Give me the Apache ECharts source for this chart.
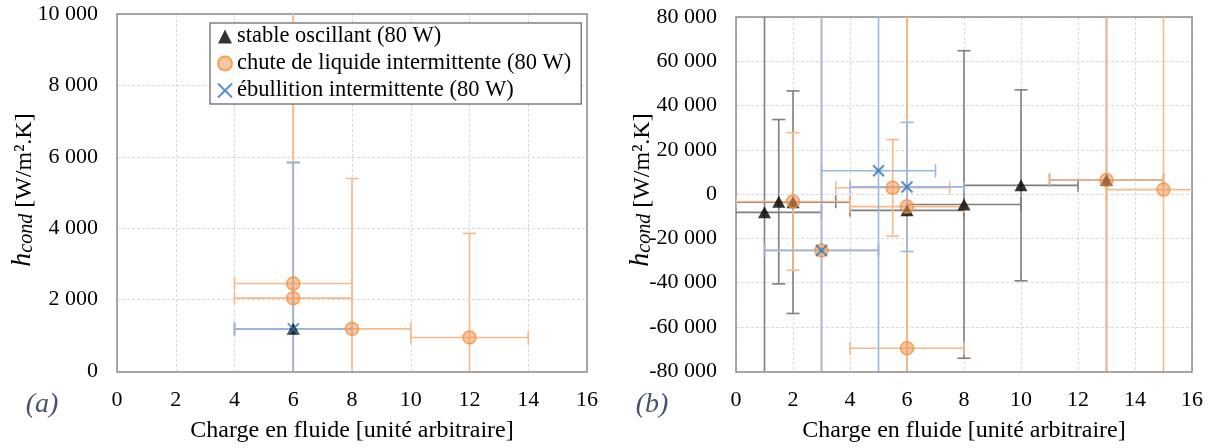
<!DOCTYPE html>
<html>
<head>
<meta charset="utf-8">
<script src="https://cdn.jsdelivr.net/npm/echarts@6/dist/echarts.min.js"></script>
<style>
  html, body { margin: 0; padding: 0; background: #fff; }
  #chart { width: 1210px; height: 448px; }
</style>
</head>
<body>
<div id="chart"></div>
<script>
// ---- data: [x, y, x error (±), y error (±)] ----
const seriesNames = ['stable oscillant (80 W)', 'chute de liquide intermittente (80 W)', 'ébullition intermittente (80 W)'];

// panel (a)
const aStable = [[6, 1180, 2, 4660]];
const aChute  = [[6, 2450, 2, 8000], [6, 2040, 2, 9000], [8, 1180, 2, 4210], [12, 940, 2, 2915]];
const aEbul   = [[6, 1180, 2, 4660]];

// panel (b)
const bStable = [[1, -8300, 2, 150000], [1.5, -3500, 2, 37150], [2, -3700, 2, 50300], [6, -7400, 2, 150000],
                 [8, -4740, 2, 69500], [10, 3900, 2, 43150], [13, 6300, 2, 150000]];
const bChute  = [[2, -3400, 2, 31100], [3, -25500, 2, 150000], [5.5, 2800, 2, 21800], [6, -5700, 2, 150000],
                 [6, -69750, 2, 150000], [13, 6300, 2, 150000], [15, 2000, 2, 150000]];
const bEbul   = [[3, -25500, 2, 150000], [5, 10500, 2, 150000], [6, 3200, 2, 29200]];

// axes
const xMin = 0, xMax = 16, xStep = 2;
const aYMin = 0, aYMax = 10000, aYStep = 2000;
const bYMin = -80000, bYMax = 80000, bYStep = 20000;

const xTitle = 'Charge en fluide [unité arbitraire]';
const panelLabels = ['(a)', '(b)'];

// ---- styles ----
const FONT = 'Liberation Serif';
const colGrey = '#7f7f7f', colOrange = '#f7b98a', colBlue = '#98b7e2';

function fmt(v) { return String(v).replace(/\B(?=(\d{3})+(?!\d))/g, ' '); }

function errSeries(id, data, idx, color) {
  return {
    type: 'custom', id: id, name: id, xAxisIndex: idx, yAxisIndex: idx,
    data: data, clip: true, silent: true,
    encode: { x: 0, y: 1 },
    renderItem: function (params, api) {
      const x = api.value(0), y = api.value(1), ex = api.value(2), ey = api.value(3);
      const l = api.coord([x - ex, y]), r = api.coord([x + ex, y]);
      const t = api.coord([x, y + ey]), b = api.coord([x, y - ey]);
      const h = 6.5;
      const st = { stroke: color, lineWidth: 1.6, fill: null };
      const ln = (x1, y1, x2, y2) => ({ type: 'line', shape: { x1, y1, x2, y2 }, style: st });
      return {
        type: 'group', children: [
          ln(l[0], l[1], r[0], r[1]),
          ln(l[0], l[1] - h, l[0], l[1] + h),
          ln(r[0], r[1] - h, r[0], r[1] + h),
          ln(t[0], t[1], b[0], b[1]),
          ln(t[0] - h, t[1], t[0] + h, t[1]),
          ln(b[0] - h, b[1], b[0] + h, b[1])
        ]
      };
    }
  };
}

const markStyles = [
  { symbol: 'triangle', symbolSize: [13, 12], itemStyle: { color: '#000' } },
  { symbol: 'circle', symbolSize: 13, itemStyle: { color: 'rgba(242,154,85,0.7)', borderColor: '#f0913f', borderWidth: 1.5 } },
  { symbol: 'path://M0,0L10,10M10,0L0,10', symbolSize: 11, itemStyle: { color: 'transparent', borderColor: '#2e75b6', borderWidth: 2 } }
];

function markSeries(k, data, idx) {
  return Object.assign({
    type: 'scatter', name: seriesNames[k], xAxisIndex: idx, yAxisIndex: idx, silent: true,
    data: data.map(d => [d[0], d[1]])
  }, markStyles[k]);
}

const errColors = [colGrey, colOrange, colBlue];
const series = [];
[[aStable, aChute, aEbul], [bStable, bChute, bEbul]].forEach((set, idx) => {
  set.forEach((data, k) => {
    series.push(errSeries('err' + idx + '_' + k, data, idx, errColors[k]));
    series.push(markSeries(k, data, idx));
  });
});

const split = { show: true, lineStyle: { color: '#d9d9d9', type: [3, 2], width: 1 } };
const tickLabel = { fontFamily: FONT, fontSize: 22, color: '#000' };

function xAxis(idx) {
  return {
    type: 'value', gridIndex: idx, min: xMin, max: xMax, interval: xStep,
    axisLine: { show: false, onZero: false }, axisTick: { show: false }, splitLine: split,
    axisLabel: Object.assign({ margin: 18 }, tickLabel),
    name: xTitle, nameLocation: 'middle', nameGap: 48,
    nameTextStyle: { fontFamily: FONT, fontSize: 24, color: '#000' }
  };
}
function yAxis(idx, mn, mx, st) {
  return {
    type: 'value', gridIndex: idx, min: mn, max: mx, interval: st,
    axisLine: { show: false, onZero: false }, axisTick: { show: false }, splitLine: split,
    axisLabel: Object.assign({ margin: 19, formatter: fmt }, tickLabel)
  };
}

function yTitle(cx) {
  return {
    type: 'text', x: cx, y: 190, rotation: Math.PI / 2,
    style: {
      text: '{h|h}{s|cond}{n| [W/m².K]}',
      align: 'center', verticalAlign: 'middle',
      rich: {
        h: { fontFamily: FONT, fontSize: 28, fontStyle: 'italic', lineHeight: 30, verticalAlign: 'bottom', fill: '#000' },
        s: { fontFamily: FONT, fontSize: 20, fontStyle: 'italic', lineHeight: 14, verticalAlign: 'bottom', fill: '#000' },
        n: { fontFamily: FONT, fontSize: 24, lineHeight: 30, verticalAlign: 'bottom', fill: '#000' }
      }
    }
  };
}
function panelLabel(txt, cx) {
  return {
    type: 'text', x: cx, y: 405,
    style: { text: txt, fontFamily: FONT, fontSize: 28, fontStyle: 'italic', fill: '#44546a', align: 'center', verticalAlign: 'middle' }
  };
}
function frame(l, t, w, h) {
  return { type: 'rect', z: 1, silent: true, shape: { x: l, y: t, width: w, height: h },
           style: { fill: null, stroke: '#8c8c8c', lineWidth: 1.5 } };
}

const option = {
  animation: false,
  backgroundColor: '#fff',
  grid: [
    { left: 117, top: 14, width: 470, height: 358 },
    { left: 736, top: 17, width: 456, height: 355 }
  ],
  xAxis: [xAxis(0), xAxis(1)],
  yAxis: [yAxis(0, aYMin, aYMax, aYStep), yAxis(1, bYMin, bYMax, bYStep)],
  legend: {
    show: true, orient: 'vertical', left: 210, top: 23, selectedMode: false,
    data: seriesNames, itemWidth: 14, itemHeight: 14, itemGap: 4,
    padding: [2, 10, 2, 7], borderColor: '#7f7f7f', borderWidth: 1.5, backgroundColor: '#fff',
    textStyle: { fontFamily: FONT, fontSize: 22.5, color: '#000', lineHeight: 22 }
  },
  graphic: [frame(117, 14, 470, 358), frame(736, 17, 456, 355),
            yTitle(22), yTitle(640), panelLabel(panelLabels[0], 42), panelLabel(panelLabels[1], 652)],
  series: series
};

const chart = echarts.init(document.getElementById('chart'), null, { renderer: 'canvas' });
chart.setOption(option);
</script>
</body>
</html>
